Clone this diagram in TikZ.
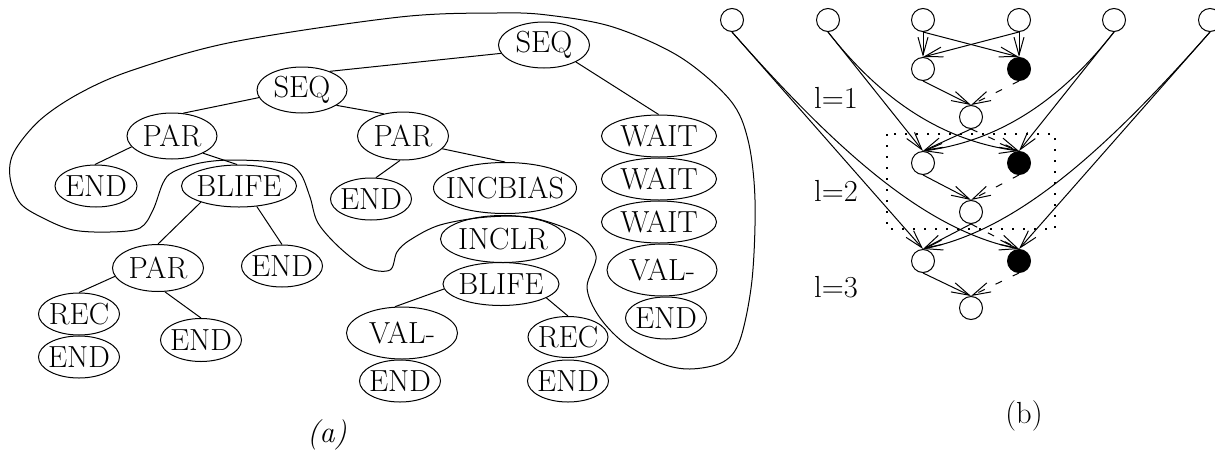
\documentclass[tikz,border=0pt]{standalone}
\usetikzlibrary{shapes.geometric,arrows.meta}
\newcommand\ellab[1]{\makebox[0pt]{#1}}
\tikzset{
  el/.style={ellipse, draw, inner sep=0pt, line width=1pt},
  cn/.style={circle, draw, minimum size=23pt, inner sep=0pt, line width=1pt},
  bn/.style={cn, fill=black},
  ln/.style={line width=1pt},
  arr/.style={line width=1pt, -{Straight Barb[length=18pt,width=10pt,line width=1pt]}},
  dsh/.style={arr, dash pattern=on 7pt off 12pt},
}
\begin{document}
\begin{tikzpicture}[x=1pt,y=-1pt,font=\fontsize{30.5}{36}\selectfont]
\useasboundingbox (0,0) rectangle (1215,453);
% ---------- (a) ----------
\node[el,minimum width=91pt,minimum height=46pt] (seqA) at (544,45) {\ellab{SEQ}};
\node[el,minimum width=90pt,minimum height=46pt] (seqB) at (302,90) {\ellab{SEQ}};
\node[el,minimum width=90pt,minimum height=46pt] (parA) at (172,136) {\ellab{PAR}};
\node[el,minimum width=91pt,minimum height=48pt] (parB) at (403,136) {\ellab{PAR}};
\node[el,minimum width=82pt,minimum height=42pt] (endA) at (96,186) {\ellab{END}};
\node[el,minimum width=115pt,minimum height=42pt] (blifeA) at (239,186) {\ellab{BLIFE}};
\node[el,minimum width=81pt,minimum height=42pt] (endB) at (371,199) {\ellab{END}};
\node[el,minimum width=143pt,minimum height=51pt] (incbias) at (505,188) {\ellab{INCBIAS}};
\node[el,minimum width=125pt,minimum height=47pt] (inclr) at (503,239) {\ellab{INCLR}};
\node[el,minimum width=116pt,minimum height=43pt] (blifeB) at (501,284) {\ellab{BLIFE}};
\node[el,minimum width=111pt,minimum height=52pt] (valA) at (402,333) {\ellab{VAL-}};
\node[el,minimum width=81pt,minimum height=42pt] (endC) at (400,381) {\ellab{END}};
\node[el,minimum width=80pt,minimum height=41pt] (recA) at (568,337) {\ellab{REC}};
\node[el,minimum width=81pt,minimum height=42pt] (endD) at (568,381) {\ellab{END}};
\node[el,minimum width=115pt,minimum height=42pt] (waitA) at (659,136) {\ellab{WAIT}};
\node[el,minimum width=115pt,minimum height=42pt] (waitB) at (659,179) {\ellab{WAIT}};
\node[el,minimum width=115pt,minimum height=42pt] (waitC) at (659,222) {\ellab{WAIT}};
\node[el,minimum width=110pt,minimum height=52pt] (valB) at (662,270) {\ellab{VAL-}};
\node[el,minimum width=81pt,minimum height=42pt] (endE) at (666,318) {\ellab{END}};
\node[el,minimum width=91pt,minimum height=47pt] (parC) at (158,268) {\ellab{PAR}};
\node[el,minimum width=81pt,minimum height=42pt] (endF) at (282,266) {\ellab{END}};
\node[el,minimum width=81pt,minimum height=42pt] (recB) at (79,314) {\ellab{REC}};
\node[el,minimum width=81pt,minimum height=42pt] (endG) at (79,357) {\ellab{END}};
\node[el,minimum width=81pt,minimum height=43pt] (endH) at (201,340) {\ellab{END}};
\node (lbla) at (327,435) {\textit{(a)}};

\draw[ln] (seqB.34) -- (seqA.191);
\draw[ln] (seqA.-28) -- (waitA.91);
\draw[ln] (seqB.190) -- (parA.64);
\draw[ln] (seqB.-24) -- (parB.131);
\draw[ln] (parA.195) -- (endA.93);
\draw[ln] (parA.-29) -- (blifeA.95);
\draw[ln] (parB.-97) -- (endB.77);
\draw[ln] (parB.-18) -- (incbias.90);
\draw[ln] (blifeA.203) -- (parC.90);
\draw[ln] (blifeA.-49) -- (endF.90);
\draw[ln] (parC.191) -- (recB.90);
\draw[ln] (parC.-74) -- (endH.90);
\draw[ln] (blifeB.185) -- (valA.105);
\draw[ln] (blifeB.-17) -- (recA.90);

\draw[ln] plot[smooth cycle, tension=0.55] coordinates {
 (400,17) (497,13) (547,15) (613,27) (680,57) (730,100) (748,140) (755,200)
 (752,280) (740,340) (723,362) (690,369) (660,363) (623,342) (598,315)
 (587,287) (596,256) (578,234) (533,218) (487,217) (440,225) (410,240)
 (397,252) (390,270) (367,268) (340,248) (318,223) (310,197) (300,173)
 (283,163) (233,160) (200,163) (173,172) (163,183) (153,210) (140,228)
 (110,232) (73,230) (43,218) (20,203) (10,177) (14,152) (40,120)
 (80,93) (133,70) (233,42)};

% ---------- (b) ----------
\node[cn] (c1) at (732,20) {};
\node[cn] (c2) at (828,20) {};
\node[cn] (c3) at (923,20) {};
\node[cn] (c4) at (1019,20) {};
\node[cn] (c5) at (1114,20) {};
\node[cn] (c6) at (1210,20) {};
\node[cn] (w1) at (923,69) {};
\node[bn] (b1) at (1019,69) {};
\node[cn] (m1) at (971,117) {};
\node[cn] (w2) at (923,163) {};
\node[bn] (b2) at (1019,163) {};
\node[cn] (m2) at (971,212) {};
\node[cn] (w3) at (923,261) {};
\node[bn] (b3) at (1019,261) {};
\node[cn] (m3) at (971,308) {};
\node (l1) at (836,98) {l=1};
\node (l2) at (836,191) {l=2};
\node (l3) at (836,287) {l=3};
\node (lblb) at (1024,416) {(b)};
\draw[line width=1.6pt, dash pattern=on 1.6pt off 9.4pt] (887,134) rectangle (1055,229);

\draw[arr] (c3.south) -- (w1.north);
\draw[arr] (c3.south) -- (b1.north);
\draw[arr] (c4.south) -- (w1.north);
\draw[arr] (c4.south) -- (b1.north);
\draw[arr] (w1.south) -- (m1.north);
\draw[dsh] (b1.south) -- (m1.north);

\draw[arr] (m1.south) -- (w2.north);
\draw[dsh] (m1.south) -- (b2.north);
\draw[arr] (c2.south) -- (w2.north);
\draw[arr] (c2.south) .. controls (875,92) and (935,140) .. (b2.north);
\draw[arr] (c5.south) -- (b2.north);
\draw[arr] (c5.south) .. controls (1067,92) and (1007,140) .. (w2.north);
\draw[arr] (w2.south) -- (m2.north);
\draw[dsh] (b2.south) -- (m2.north);

\draw[arr] (m2.south) -- (w3.north);
\draw[dsh] (m2.south) -- (b3.north);
\draw[arr] (c1.south) -- (w3.north);
\draw[arr] (c1.south) .. controls (837,151) and (925,230) .. (b3.north);
\draw[arr] (c6.south) -- (b3.north);
\draw[arr] (c6.south) .. controls (1105,151) and (1017,230) .. (w3.north);
\draw[arr] (w3.south) -- (m3.north);
\draw[dsh] (b3.south) -- (m3.north);
\end{tikzpicture}
\end{document}
